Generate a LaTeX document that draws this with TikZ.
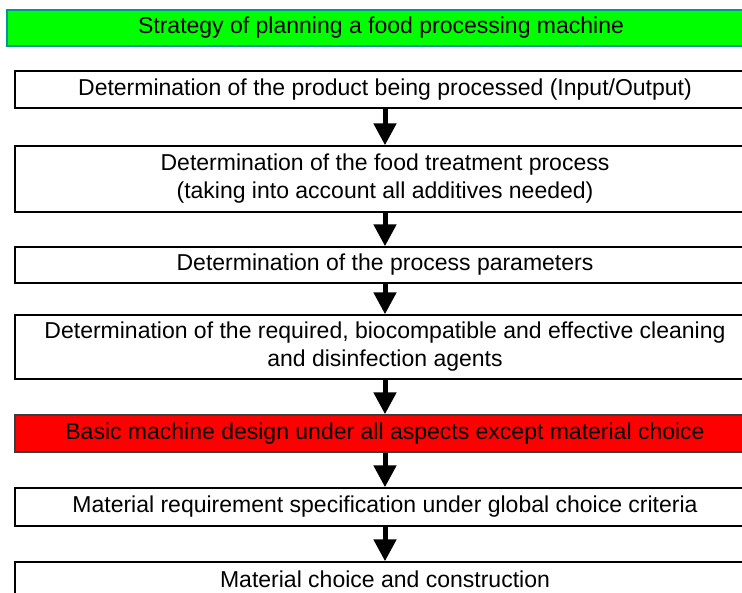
\documentclass[tikz,border=0pt]{standalone}
\usepackage{fontspec}
\setmainfont{Liberation Sans}
\usetikzlibrary{arrows.meta}

\definecolor{titlegreen}{RGB}{0,255,0}
\definecolor{titleedge}{RGB}{0,150,150}
\definecolor{stepred}{RGB}{255,0,0}
\definecolor{rededge}{RGB}{60,60,60}

\tikzset{
  stepbox/.style={draw=black, line width=1.5pt, fill=white, minimum width=740pt,
    align=center, inner sep=0pt, font=\fontsize{23}{28}\selectfont},
  flowarrow/.style={line width=5pt, -{Triangle[width=22pt,length=22pt]}}
}

\begin{document}
\begin{tikzpicture}[x=1pt, y=-1pt]
      \useasboundingbox (0,0) rectangle (742,592);
      \clip (0,0) rectangle (742,592);
      \node (title) at (381,28) [stepbox, draw=titleedge, fill=titlegreen, minimum width=748pt, minimum height=36pt] {Strategy of planning a food processing machine};
      \node (1) at (385,89.5) [stepbox, minimum height=37pt] {Determination of the product being processed (Input/Output)};
      \node (2) at (385,179) [stepbox, minimum height=66pt] {Determination of the food treatment process\\(taking into account all additives needed)};
      \node (3) at (385,265) [stepbox, minimum height=36pt] {Determination of the process parameters};
      \node (4) at (385,347) [stepbox, minimum height=64pt] {Determination of the required, biocompatible and effective cleaning\\and disinfection agents};
      \node (5) at (385,433.5) [stepbox, draw=rededge, fill=stepred, minimum height=37pt] {Basic machine design under all aspects except material choice};
      \node (6) at (385,507) [stepbox, minimum height=38pt] {Material requirement specification under global choice criteria};
      \node (7) at (385,579) [stepbox, minimum height=34pt] {Material choice and construction};
      \foreach \source/\dest in {1/2, 2/3, 3/4, 4/5, 5/6, 6/7}
        \draw [flowarrow] (\source.south) -- (\dest.north);
\end{tikzpicture}
\end{document}
